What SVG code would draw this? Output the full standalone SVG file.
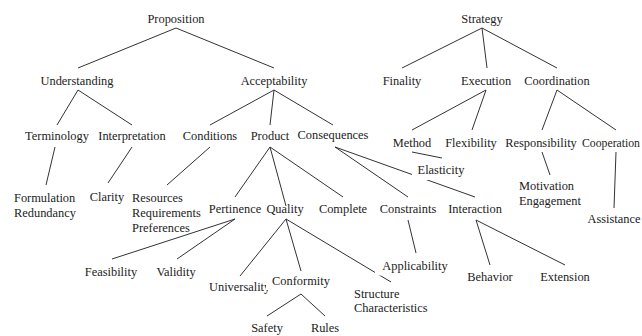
<svg xmlns="http://www.w3.org/2000/svg" width="642" height="336" viewBox="0 0 642 336">
<style>
text{font-size:12.4px;fill:#222}
.c{text-anchor:middle}
#edges line{stroke:#333;stroke-width:1}
.bg{fill:#fff}
</style>
<rect width="642" height="336" fill="#fff"/>
<g id="edges">
<line x1="176" y1="28" x2="78" y2="68"/>
<line x1="176" y1="28" x2="274" y2="68"/>
<line x1="78" y1="90" x2="57" y2="125"/>
<line x1="78" y1="90" x2="132" y2="125"/>
<line x1="274" y1="90" x2="210" y2="125"/>
<line x1="274" y1="90" x2="270" y2="125"/>
<line x1="274" y1="90" x2="333" y2="125"/>
<line x1="55" y1="147" x2="46" y2="185"/>
<line x1="132" y1="147" x2="108" y2="183"/>
<line x1="210" y1="147" x2="167" y2="185"/>
<line x1="270" y1="147" x2="235" y2="197"/>
<line x1="270" y1="147" x2="286" y2="206"/>
<line x1="270" y1="147" x2="343" y2="197"/>
<line x1="335" y1="147" x2="408" y2="197"/>
<line x1="335" y1="147" x2="475" y2="197"/>
<line x1="412" y1="152" x2="442" y2="158"/>
<line x1="482" y1="28" x2="402" y2="68"/>
<line x1="482" y1="28" x2="487" y2="68"/>
<line x1="482" y1="28" x2="557" y2="68"/>
<line x1="486" y1="90" x2="412" y2="130"/>
<line x1="486" y1="90" x2="472" y2="130"/>
<line x1="557" y1="90" x2="542" y2="130"/>
<line x1="557" y1="90" x2="616" y2="130"/>
<line x1="542" y1="152" x2="550" y2="175"/>
<line x1="616" y1="152" x2="614" y2="208"/>
<line x1="408" y1="220" x2="416" y2="253"/>
<line x1="476" y1="220" x2="490" y2="265"/>
<line x1="476" y1="220" x2="565" y2="265"/>
<line x1="235" y1="219" x2="112" y2="259"/>
<line x1="235" y1="219" x2="177" y2="259"/>
<line x1="286" y1="219" x2="240" y2="276"/>
<line x1="286" y1="219" x2="301" y2="271"/>
<line x1="286" y1="219" x2="391" y2="282"/>
<line x1="301" y1="294" x2="267" y2="316"/>
<line x1="301" y1="294" x2="325" y2="316"/>
</g>
<g font-family="'Liberation Serif', 'Times New Roman', 'DejaVu Serif', serif">
<g id="proposition"><text class="c" x="176" y="23">Proposition</text></g>
<g id="understanding"><text class="c" x="77" y="85">Understanding</text></g>
<g id="acceptability"><text class="c" x="274" y="85">Acceptability</text></g>
<g id="terminology"><text class="c" x="57" y="140">Terminology</text></g>
<g id="interpretation"><text class="c" x="132" y="140">Interpretation</text></g>
<g id="conditions"><text class="c" x="210" y="140">Conditions</text></g>
<g id="product"><text class="c" x="270" y="140">Product</text></g>
<g id="consequences"><text class="c" x="333" y="139">Consequences</text></g>
<g id="formulation"><text x="14" y="202">Formulation</text><text x="14" y="217">Redundancy</text></g>
<g id="clarity"><text class="c" x="107" y="201">Clarity</text></g>
<g id="resources"><text x="132" y="202">Resources</text><text x="132" y="217">Requirements</text><text x="132" y="232">Preferences</text></g>
<g id="pertinence"><text class="c" x="235" y="213">Pertinence</text></g>
<g id="quality"><text class="c" x="285" y="213">Quality</text></g>
<g id="complete"><text class="c" x="343" y="213">Complete</text></g>
<g id="constraints"><text class="c" x="408" y="213">Constraints</text></g>
<g id="interaction"><text class="c" x="475" y="213">Interaction</text></g>
<g id="elasticity"><rect class="bg" x="412" y="162" width="58" height="18"/><text class="c" x="441" y="174">Elasticity</text></g>
<g id="strategy"><text class="c" x="482" y="23">Strategy</text></g>
<g id="finality"><text class="c" x="402" y="85">Finality</text></g>
<g id="execution"><text class="c" x="486" y="85">Execution</text></g>
<g id="coordination"><text class="c" x="557" y="85">Coordination</text></g>
<g id="method"><text class="c" x="412" y="147">Method</text></g>
<g id="flexibility"><text class="c" x="471" y="147">Flexibility</text></g>
<g id="responsibility"><text class="c" x="541" y="147">Responsibility</text></g>
<g id="cooperation"><text x="582" y="147" textLength="58" lengthAdjust="spacingAndGlyphs">Cooperation</text></g>
<g id="motivation"><text x="519" y="190">Motivation</text><text x="519" y="205">Engagement</text></g>
<g id="assistance"><text class="c" x="614" y="223">Assistance</text></g>
<g id="feasibility"><text class="c" x="111" y="276">Feasibility</text></g>
<g id="validity"><text class="c" x="176" y="276">Validity</text></g>
<g id="universality"><text x="209" y="291">Universality</text></g>
<g id="conformity"><rect class="bg" x="266" y="273" width="68" height="17"/><text class="c" x="301" y="285">Conformity</text></g>
<g id="safety"><text class="c" x="267" y="332">Safety</text></g>
<g id="rules"><text class="c" x="325" y="332">Rules</text></g>
<g id="structure"><text x="354" y="298">Structure</text><text x="354" y="312">Characteristics</text></g>
<g id="applicability"><rect class="bg" x="375" y="257" width="80" height="18.5"/><text class="c" x="415" y="270">Applicability</text></g>
<g id="behavior"><text class="c" x="490" y="281">Behavior</text></g>
<g id="extension"><text class="c" x="565" y="281">Extension</text></g>
</g>
</svg>
